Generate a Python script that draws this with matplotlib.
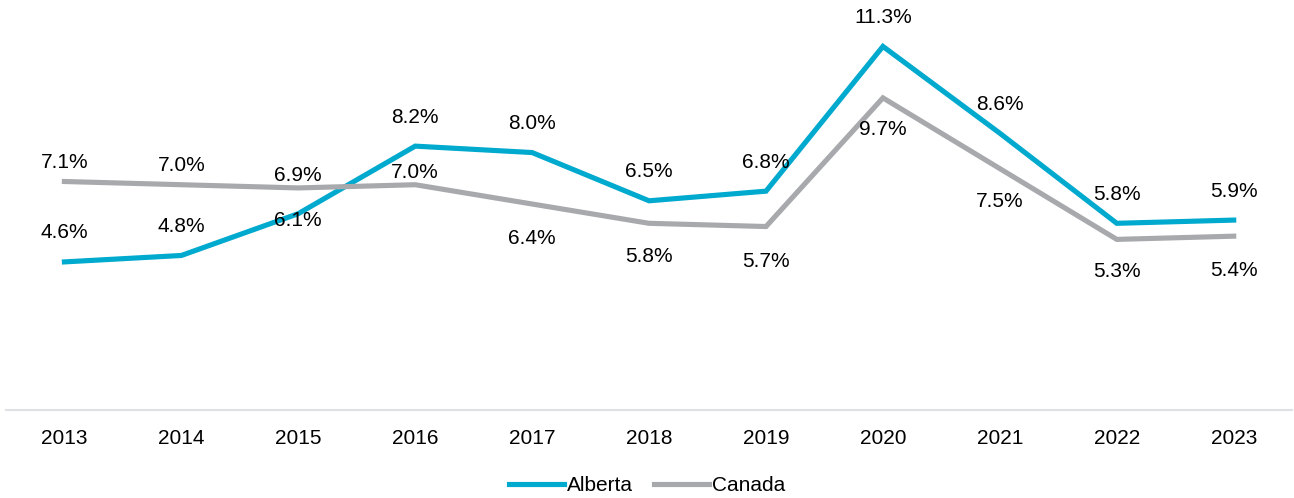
import matplotlib.pyplot as plt

plt.rcParams['font.family'] = ['Liberation Sans', 'DejaVu Sans']

# data
years = ['2013', '2014', '2015', '2016', '2017', '2018', '2019', '2020', '2021', '2022', '2023']
alberta = [4.6, 4.8, 6.1, 8.2, 8.0, 6.5, 6.8, 11.3, 8.6, 5.8, 5.9]
canada = [7.1, 7.0, 6.9, 7.0, 6.4, 5.8, 5.7, 9.7, 7.5, 5.3, 5.4]

# label offsets in pixels (positive = above the point)
alberta_off = [29, 29, -7, 29, 29, 29, 29, 29, 29, 29, 29]
canada_off = [19, 19, 12, 12, -34, -33, -35, -32, -33, -32, -34]

blue = '#00A9CE'
grey = '#A7A9AC'

fig = plt.figure(figsize=(12.94, 4.98), dpi=100)
ax = fig.add_axes([0.0046, 0.177, 0.994, 0.775])

x = range(len(years))
ax.plot(x, alberta, color=blue, lw=3.7, label='Alberta', solid_joinstyle='miter')
ax.plot(x, canada, color=grey, lw=3.7, label='Canada', solid_joinstyle='miter')

for i in x:
    ax.annotate(f'{alberta[i]:.1f}%', (i, alberta[i]), xytext=(0, alberta_off[i]),
                textcoords='offset pixels', ha='center', va='center', fontsize=15)
    ax.annotate(f'{canada[i]:.1f}%', (i, canada[i]), xytext=(0, canada_off[i]),
                textcoords='offset pixels', ha='center', va='center', fontsize=15)

ax.set_xlim(-0.5, 10.5)
ax.set_ylim(0, 12)
ax.set_xticks(list(x))
ax.set_xticklabels(years, fontsize=15)
ax.set_yticks([])
ax.tick_params(axis='x', length=0, pad=14)
for s in ['top', 'right', 'left']:
    ax.spines[s].set_visible(False)
ax.spines['bottom'].set_color('#DDE1E6')
ax.spines['bottom'].set_linewidth(1.5)

fig.legend(loc='lower center', ncol=2, frameon=False, fontsize=15,
           handlelength=2.64, handletextpad=0.15, columnspacing=1.0,
           bbox_to_anchor=(0.5, -0.032))

fig.savefig('out.png', dpi=100)
